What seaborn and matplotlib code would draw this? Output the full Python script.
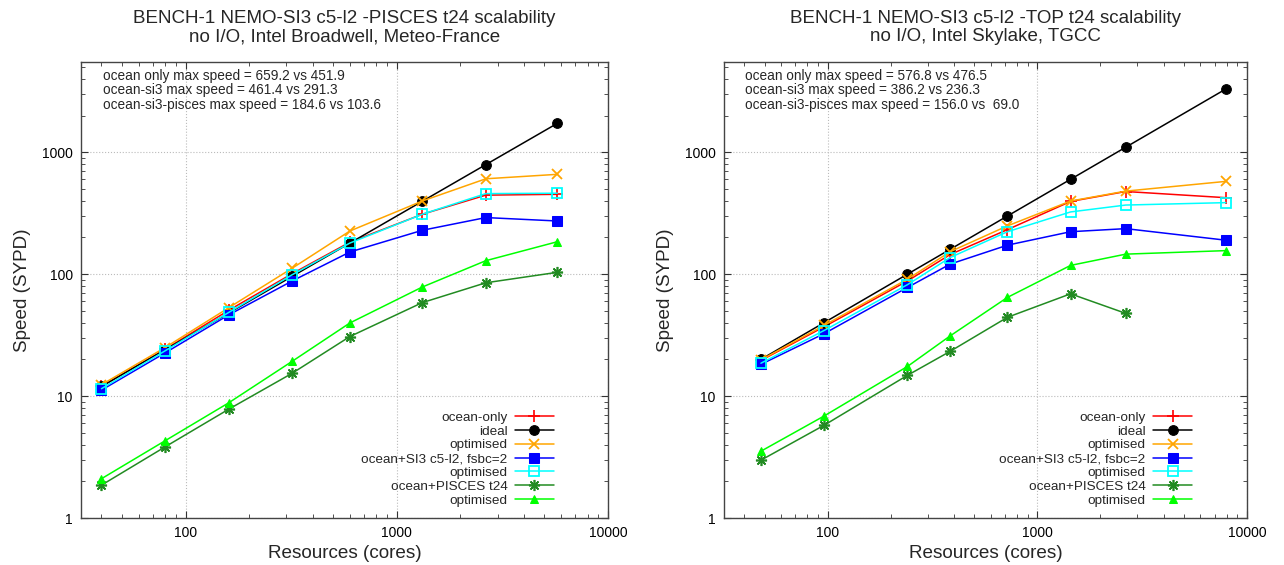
import numpy as np
import pandas as pd
import matplotlib
matplotlib.use("Agg")
import matplotlib.pyplot as plt
import seaborn as sns
from matplotlib.ticker import FixedLocator, LogLocator, NullFormatter

# ---------------- data ----------------
left_cores = [40, 80, 160, 320, 600, 1320, 2640, 5760]
left_ocean = [12.0, 24.2, 50.5, 101, 183, 310, 445, 451.9]
left_ideal = [12, 24, 48, 96, 180, 396, 792, 1728]
left_ocean_opt = [12.4, 25.0, 53, 112, 226, 398, 606, 659.2]
left_si3 = [11.2, 22.6, 46.3, 88, 152, 229, 291.3, 273]
left_si3_opt = [11.5, 23.5, 48.5, 99, 180, 310, 458, 461.4]
left_pisces = [1.86, 3.83, 7.8, 15.4, 30.8, 58.4, 85, 103.6]
left_pisces_opt = [2.1, 4.3, 8.8, 19.3, 39.8, 78.4, 129, 184.6]

right_cores = [48, 96, 240, 384, 720, 1440, 2640, 7920]
right_ocean = [19.6, 37, 88, 145, 232, 395, 476.5, 424]
right_ideal = [20, 40, 100, 160, 300, 600, 1100, 3300]
right_ocean_opt = [19.8, 38, 91, 153, 249, 398, 480, 576.8]
right_si3 = [18.2, 32.5, 77.8, 121, 173, 223, 236.3, 190]
right_si3_opt = [18.6, 34.5, 82, 137, 223, 324, 369, 386.2]
right_pisces_cores = [48, 96, 240, 384, 720, 1440, 2640]
right_pisces = [2.98, 5.76, 14.8, 23.3, 44.3, 69.0, 47.7]
right_pisces_opt = [3.53, 6.86, 17.5, 31.2, 64.5, 118, 146, 156.0]

series_labels = ["ocean-only", "ideal", "optimised", "ocean+SI3 c5-l2, fsbc=2",
                 "optimised", "ocean+PISCES t24", "optimised"]

left_title = "BENCH-1 NEMO-SI3 c5-l2 -PISCES t24 scalability\nno I/O, Intel Broadwell, Meteo-France"
right_title = "BENCH-1 NEMO-SI3 c5-l2 -TOP t24 scalability\nno I/O, Intel Skylake, TGCC"
left_notes = ["ocean only max speed = 659.2 vs 451.9",
              "ocean-si3 max speed = 461.4 vs 291.3",
              "ocean-si3-pisces max speed = 184.6 vs 103.6"]
right_notes = ["ocean only max speed = 576.8 vs 476.5",
               "ocean-si3 max speed = 386.2 vs 236.3",
               "ocean-si3-pisces max speed = 156.0 vs  69.0"]

x_ticks = [100, 1000, 10000]
x_ticklabels = ["100", "1000", "10000"]
y_ticks = [1, 10, 100, 1000]
y_ticklabels = ["1", "10", "100", "1000"]

# ---------------- style ----------------
sns.set_theme(style="ticks")
plt.rcParams['font.family'] = ['Liberation Sans', 'DejaVu Sans']

styles = [
    dict(color="#ff0000", marker="+", markersize=8, markeredgewidth=1.2),
    dict(color="#000000", marker="o", markersize=7),
    dict(color="#ffa500", marker="x", markersize=7, markeredgewidth=1.3),
    dict(color="#0000ff", marker="s", markersize=6.5),
    dict(color="#00ffff", marker="s", markersize=7, markerfacecolor="none", markeredgewidth=1.3),
    dict(color="#228b22", marker=(8, 2, 0), markersize=8, markeredgewidth=1.2),
    dict(color="#00ff00", marker="^", markersize=6),
]

fig = plt.figure(figsize=(12.84, 5.65), dpi=100)
W, H = 1284, 565
ax_l = fig.add_axes([81 / W, 1 - 518 / H, 527 / W, 456 / H])
ax_r = fig.add_axes([724 / W, 1 - 518 / H, 523 / W, 456 / H])


def draw(ax, series, title, notes, leg_x):
    for (xs, ys), lab, st in zip(series, series_labels, styles):
        df = pd.DataFrame({"cores": xs, "speed": ys})
        st = dict(st)
        mfc = st.pop("markerfacecolor", st["color"])
        sns.lineplot(data=df, x="cores", y="speed", ax=ax, label=lab,
                     linewidth=1.1, markerfacecolor=mfc,
                     markeredgecolor=st["color"], sort=False, **st)
    ax.set_xscale("log")
    ax.set_yscale("log")
    ax.set_xlim(32, 10000)
    ax.set_ylim(1, 5500)
    ax.xaxis.set_major_locator(FixedLocator(x_ticks))
    ax.set_xticklabels(x_ticklabels)
    ax.yaxis.set_major_locator(FixedLocator(y_ticks))
    ax.set_yticklabels(y_ticklabels)
    ax.xaxis.set_minor_locator(LogLocator(base=10, subs=np.arange(2, 10)))
    ax.yaxis.set_minor_locator(LogLocator(base=10, subs=np.arange(2, 10)))
    ax.xaxis.set_minor_formatter(NullFormatter())
    ax.yaxis.set_minor_formatter(NullFormatter())
    ax.tick_params(which="both", direction="in", top=True, right=True,
                   colors="#333333", labelcolor="black", labelsize=10)
    ax.tick_params(which="major", length=5, width=0.8, pad=6)
    ax.tick_params(which="minor", length=3, width=0.6)
    for sp in ax.spines.values():
        sp.set_color("#444444")
        sp.set_linewidth(1.0)
    ax.grid(True, which="major", color="#bbbbbb", linestyle=":", linewidth=0.8)
    ax.set_xlabel("Resources (cores)", fontsize=13.6, labelpad=3)
    ax.set_ylabel("Speed (SYPD)", fontsize=13.6, labelpad=8)
    ax.set_title(title, fontsize=13.5, pad=15, linespacing=1.12)
    for i, t in enumerate(notes):
        ax.text(0.041, 0.985 - i * 0.032, t, transform=ax.transAxes,
                fontsize=9.8, va="top", ha="left")
    ax.legend(loc="lower right", bbox_to_anchor=(leg_x, 0.025), frameon=False,
              markerfirst=False, fontsize=9.7, handlelength=2.9,
              handletextpad=0.55, labelspacing=0.1, borderpad=0,
              borderaxespad=0)


left_series = [(left_cores, left_ocean), (left_cores, left_ideal),
               (left_cores, left_ocean_opt), (left_cores, left_si3),
               (left_cores, left_si3_opt), (left_cores, left_pisces),
               (left_cores, left_pisces_opt)]
right_series = [(right_cores, right_ocean), (right_cores, right_ideal),
                (right_cores, right_ocean_opt), (right_cores, right_si3),
                (right_cores, right_si3_opt), (right_pisces_cores, right_pisces),
                (right_cores, right_pisces_opt)]

draw(ax_l, left_series, left_title, left_notes, 0.8975)
draw(ax_r, right_series, right_title, right_notes, 0.895)

fig.savefig("out.png", dpi=100)
